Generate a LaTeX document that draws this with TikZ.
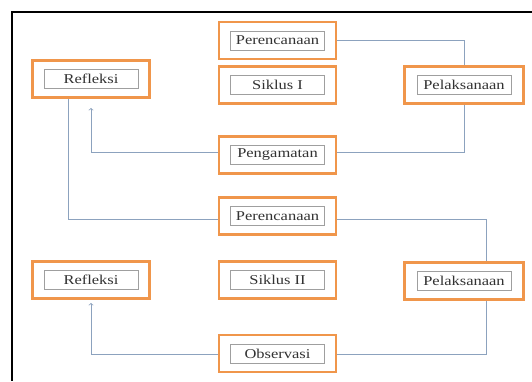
\documentclass[tikz,border=0pt]{standalone}
\usepackage{fontspec}
\setmainfont[FakeStretch=1.22]{Liberation Serif}
\usetikzlibrary{arrows}
\definecolor{boxorange}{RGB}{240,150,75}
\definecolor{linkblue}{RGB}{140,162,190}
\definecolor{textgray}{RGB}{50,50,50}

\begin{document}
\begin{tikzpicture}[x=1pt,y=-1pt,>=to,semithick]
          \tikzstyle{frame}=[draw=boxorange,line width=2.8pt,fill=white,minimum width=117pt,minimum height=37pt,inner sep=0pt]
          \tikzstyle{label}=[draw=gray!75,line width=0.8pt,fill=white,minimum width=94pt,minimum height=19pt,inner sep=0pt,text=textgray,font=\fontsize{13.5}{13.5}\selectfont]
          \tikzstyle{link}=[draw=linkblue,line width=0.8pt]
          \useasboundingbox (0,0) rectangle (532,381);
          \draw[line width=2pt] (532,12) -- (12,12) -- (12,381);

          % first cycle
          \node[frame] (pr1) at (277.5,40.5) {};
          \node[label] (pr1t) at (pr1) {Perencanaan};
          \node[frame] (sk1) at (277.5,85) {};
          \node[label] (sk1t) at (sk1) {Siklus I};
          \node[frame] (rf1) at (91,79) {};
          \node[label] (rf1t) at (rf1) {Refleksi};
          \node[frame,minimum width=119pt] (pl1) at (464,85) {};
          \node[label] (pl1t) at (pl1) {Pelaksanaan};
          \node[frame] (pg1) at (277.5,155) {};
          \node[label] (pg1t) at (pg1) {Pengamatan};

          % second cycle
          \node[frame] (pr2) at (277.5,216) {};
          \node[label] (pr2t) at (pr2) {Perencanaan};
          \node[frame] (sk2) at (277.5,280) {};
          \node[label] (sk2t) at (sk2) {Siklus II};
          \node[frame] (rf2) at (91,280) {};
          \node[label] (rf2t) at (rf2) {Refleksi};
          \node[frame,minimum width=119pt] (pl2) at (464,281) {};
          \node[label] (pl2t) at (pl2) {Pelaksanaan};
          \node[frame] (ob2) at (277.5,353.5) {};
          \node[label] (ob2t) at (ob2) {Observasi};

          \path[link] (pr1.east) -| (pl1.north);
          \path[link] (pl1.south) |- ([yshift=3pt]pg1.east);
          \path[link,->,shorten >=9pt] ([yshift=3pt]pg1.west) -| (rf1.south);
          \path[link] ([xshift=-23pt]rf1.south) |- ([yshift=-3pt]pr2.west);
          \path[link] ([yshift=-3pt]pr2.east) -| ([xshift=22pt]pl2.north);
          \path[link] ([xshift=22pt]pl2.south) |- ([yshift=-1pt]ob2.east);
          \path[link,->,shorten >=3pt] ([yshift=-1pt]ob2.west) -| (rf2.south);
        \end{tikzpicture}
\end{document}
